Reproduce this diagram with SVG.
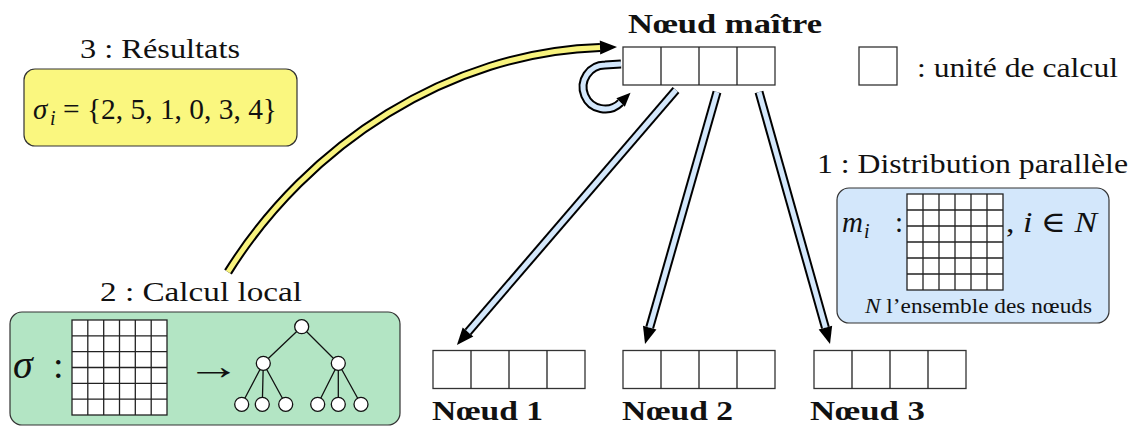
<svg xmlns="http://www.w3.org/2000/svg" width="1133" height="427" viewBox="0 0 1133 427" font-family="'Liberation Serif', 'DejaVu Serif', serif">
<defs>
<style>
text{font-family:'Liberation Serif', 'DejaVu Serif', serif;fill:#111;}
.t{font-size:28px;}
.b{font-size:28px;font-weight:bold;}
.m{font-size:29px;}
.it{font-style:italic;}
.cell{fill:#fff;stroke:#333;stroke-width:1.3;}
.grid{fill:none;stroke:#222;stroke-width:1.3;}
.box{stroke:#333;stroke-width:1.2;}
.outer{fill:none;stroke:#000;stroke-width:9;stroke-linecap:butt;}
.inY{fill:none;stroke:#f8f37e;stroke-width:5;stroke-linecap:butt;}
.inB{fill:none;stroke:#d3e7fb;stroke-width:5;stroke-linecap:butt;}
.edge{stroke:#111;stroke-width:1.3;}
.tn{fill:#fff;stroke:#111;stroke-width:1.3;}
</style>
<marker id="ah" markerUnits="userSpaceOnUse" markerWidth="20" markerHeight="16" refX="0" refY="7" orient="auto" overflow="visible">
<path d="M0,0 L17,7 L0,14 z" fill="#000"/>
</marker>
<marker id="ahs" markerUnits="userSpaceOnUse" markerWidth="16" markerHeight="14" refX="0" refY="6" orient="auto" overflow="visible">
<path d="M0,0 L14,6 L0,12 z" fill="#000"/>
</marker>
</defs>

<g id="connectors">
<path class="outer" d="M228 272 C308 144 450 52 600 47.5" marker-end="url(#ah)"/>
<path class="inY" d="M228 272 C308 144 450 52 600 47.5"/>
<path class="outer" d="M621 64 L605 65 A22 22 0 1 0 620.6 102.6" marker-end="url(#ahs)"/>
<path class="inB" d="M621 64 L605 65 A22 22 0 1 0 620.6 102.6"/>
<path class="outer" d="M676 90 L468 332" marker-end="url(#ah)"/>
<path class="inB" d="M676 90 L468 332"/>
<path class="outer" d="M717 92 L649.7 327.6" marker-end="url(#ah)"/>
<path class="inB" d="M717 92 L649.7 327.6"/>
<path class="outer" d="M759 92 L825.4 327.6" marker-end="url(#ah)"/>
<path class="inB" d="M759 92 L825.4 327.6"/>
</g>

<g id="node-master">
<text class="b" x="628" y="33" textLength="194" lengthAdjust="spacingAndGlyphs">Nœud maître</text>
<rect class="cell" x="623" y="47" width="152" height="38"/>
<path class="grid" d="M661 47V85M699 47V85M737 47V85"/>
</g>

<g id="legend">
<rect class="cell" x="859" y="47" width="38" height="38"/>
<text class="t" x="917" y="77" textLength="201" lengthAdjust="spacingAndGlyphs">: unité de calcul</text>
</g>

<g id="box-results">
<text class="t" x="80" y="58" textLength="160" lengthAdjust="spacingAndGlyphs">3 : Résultats</text>
<rect class="box" x="24" y="69" width="273" height="77" rx="11" fill="#faf77f"/>
<text class="m it" x="33" y="119">σ</text>
<text class="it" x="50" y="125" font-size="20">i</text>
<text class="m" x="63" y="119" textLength="214" lengthAdjust="spacingAndGlyphs">= {2, 5, 1, 0, 3, 4}</text>
</g>

<g id="box-distribution">
<text class="t" x="817" y="173" textLength="311" lengthAdjust="spacingAndGlyphs">1 : Distribution parallèle</text>
<rect class="box" x="837" y="188" width="272" height="135" rx="12" fill="#d3e7fb"/>
<text class="m it" x="842" y="232">m</text>
<text class="it" x="864" y="238" font-size="20">i</text>
<text class="m" x="895" y="232">:</text>
<rect x="907" y="194" width="96" height="96" fill="#fff" stroke="#222" stroke-width="1.3"/>
<path class="grid" d="M923 194V290M939 194V290M955 194V290M971 194V290M987 194V290M907 210H1003M907 226H1003M907 242H1003M907 258H1003M907 274H1003"/>
<text class="m" x="1006" y="232" textLength="91" lengthAdjust="spacingAndGlyphs">, <tspan class="it">i</tspan> ∈ <tspan class="it">N</tspan></text>
<text x="865" y="313" font-size="21" textLength="227" lengthAdjust="spacingAndGlyphs"><tspan class="it">N</tspan> l’ensemble des nœuds</text>
</g>

<g id="box-local">
<text class="t" x="100" y="301" textLength="202" lengthAdjust="spacingAndGlyphs">2 : Calcul local</text>
<rect class="box" x="10" y="312" width="390" height="113" rx="12" fill="#b3e5c4"/>
<text class="it" x="13" y="378" font-size="40">σ</text>
<text x="53" y="378" font-size="38">:</text>
<rect x="72" y="320" width="95" height="95" fill="#fff" stroke="#222" stroke-width="1.3"/>
<path class="grid" d="M87.8 320V415M103.7 320V415M119.5 320V415M135.3 320V415M151.2 320V415M72 335.8H167M72 351.7H167M72 367.5H167M72 383.3H167M72 399.2H167"/>
<text transform="translate(186 379) scale(1.45 1)" font-size="38">→</text>
<g id="tree">
<path class="edge" d="M301.7 326.7L263.3 363.3M301.7 326.7L338.3 363.3M263.3 363.3L241.7 404.3M263.3 363.3L262.3 404.3M263.3 363.3L285.7 404.3M338.3 363.3L317.7 404.3M338.3 363.3L338.3 404.3M338.3 363.3L361 404.3"/>
<circle class="tn" cx="301.7" cy="326.7" r="7"/>
<circle class="tn" cx="263.3" cy="363.3" r="7"/>
<circle class="tn" cx="338.3" cy="363.3" r="7"/>
<circle class="tn" cx="241.7" cy="404.3" r="7"/>
<circle class="tn" cx="262.3" cy="404.3" r="7"/>
<circle class="tn" cx="285.7" cy="404.3" r="7"/>
<circle class="tn" cx="317.7" cy="404.3" r="7"/>
<circle class="tn" cx="338.3" cy="404.3" r="7"/>
<circle class="tn" cx="361" cy="404.3" r="7"/>
</g>
</g>

<g id="node-1">
<rect class="cell" x="433" y="350.5" width="152" height="38"/>
<path class="grid" d="M471 350.5V388.5M509 350.5V388.5M547 350.5V388.5"/>
<text class="b" x="432" y="420" textLength="111" lengthAdjust="spacingAndGlyphs">Nœud 1</text>
</g>

<g id="node-2">
<rect class="cell" x="623" y="350.5" width="152" height="38"/>
<path class="grid" d="M661 350.5V388.5M699 350.5V388.5M737 350.5V388.5"/>
<text class="b" x="622" y="420" textLength="111" lengthAdjust="spacingAndGlyphs">Nœud 2</text>
</g>

<g id="node-3">
<rect class="cell" x="814" y="350.5" width="152" height="38"/>
<path class="grid" d="M852 350.5V388.5M890 350.5V388.5M928 350.5V388.5"/>
<text class="b" x="810" y="420" textLength="115" lengthAdjust="spacingAndGlyphs">Nœud 3</text>
</g>
</svg>
